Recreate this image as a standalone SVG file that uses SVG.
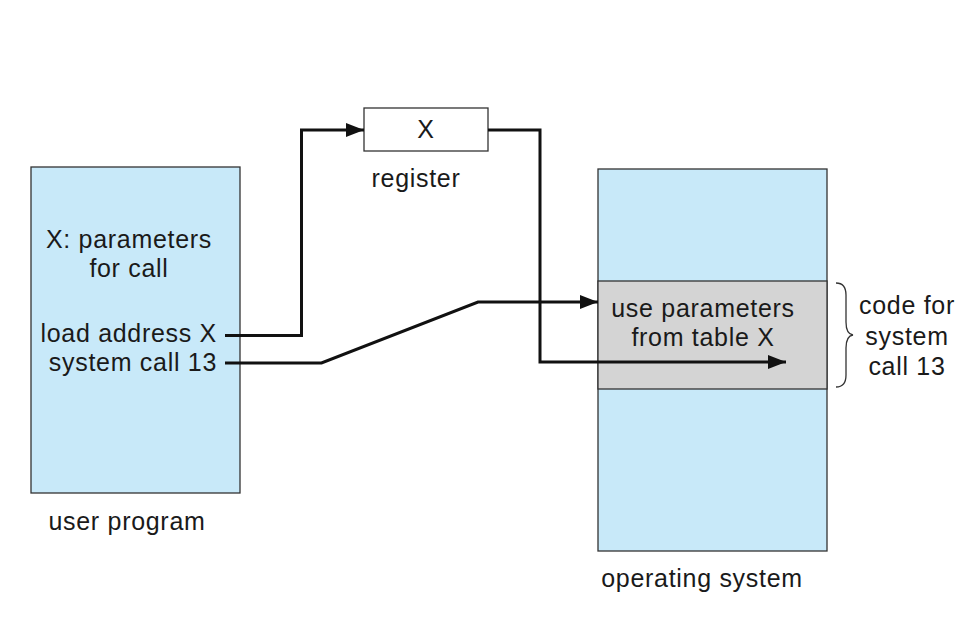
<svg xmlns="http://www.w3.org/2000/svg" width="971" height="629" viewBox="0 0 971 629">
<defs>
<style>
text{font-family:"Liberation Sans",Arial,sans-serif;font-size:25px;fill:#1a1a1a;letter-spacing:0.7px}
.box{fill:#c8e9f9;stroke:#333;stroke-width:1.3}
.gray{fill:#d4d4d4;stroke:#333;stroke-width:1.3}
.reg{fill:#fff;stroke:#333;stroke-width:1.3}
.conn{fill:none;stroke:#111;stroke-width:3;stroke-linejoin:miter}
.m{text-anchor:middle}
.e{text-anchor:end}
</style>
<marker id="ah" viewBox="0 0 18 14" refX="18" refY="7" markerWidth="18" markerHeight="14" markerUnits="userSpaceOnUse" orient="auto">
<path d="M0,0 L18,7 L0,14 Z" fill="#111"/>
</marker>
</defs>
<rect width="971" height="629" fill="#fff"/>
<g id="user-program">
<rect class="box" x="31" y="167" width="209" height="326"/>
<text class="m" x="129" y="248">X: parameters</text>
<text class="m" x="129" y="277">for call</text>
<text class="e" x="217" y="342">load address X</text>
<text class="e" x="217" y="371">system call 13</text>
<text class="m" x="127" y="530">user program</text>
</g>
<g id="register">
<rect class="reg" x="364" y="108" width="124" height="43"/>
<text class="m" x="426" y="138">X</text>
<text class="m" x="416" y="187">register</text>
</g>
<g id="operating-system">
<rect class="box" x="598" y="169" width="229" height="382"/>
<rect class="gray" x="598" y="281" width="229" height="108"/>
<text class="m" x="703" y="317">use parameters</text>
<text class="m" x="703" y="346">from table X</text>
<text class="m" x="702" y="587">operating system</text>
</g>
<g id="code-label">
<path d="M836,283 Q846,283 846,295 L846,322 Q846,334 853,335 Q846,336 846,348 L846,375 Q846,387 836,387" fill="none" stroke="#333" stroke-width="1.3"/>
<text class="m" x="907" y="314">code for</text>
<text class="m" x="907" y="345">system</text>
<text class="m" x="907" y="375">call 13</text>
</g>
<g id="connectors">
<path class="conn" d="M225,335.5 H301.5 V130 H364" marker-end="url(#ah)"/>
<path class="conn" d="M225,363 H321.5 L478,302 H598" marker-end="url(#ah)"/>
<path class="conn" d="M488,130 H540 V362 H786" marker-end="url(#ah)"/>
</g>
</svg>
